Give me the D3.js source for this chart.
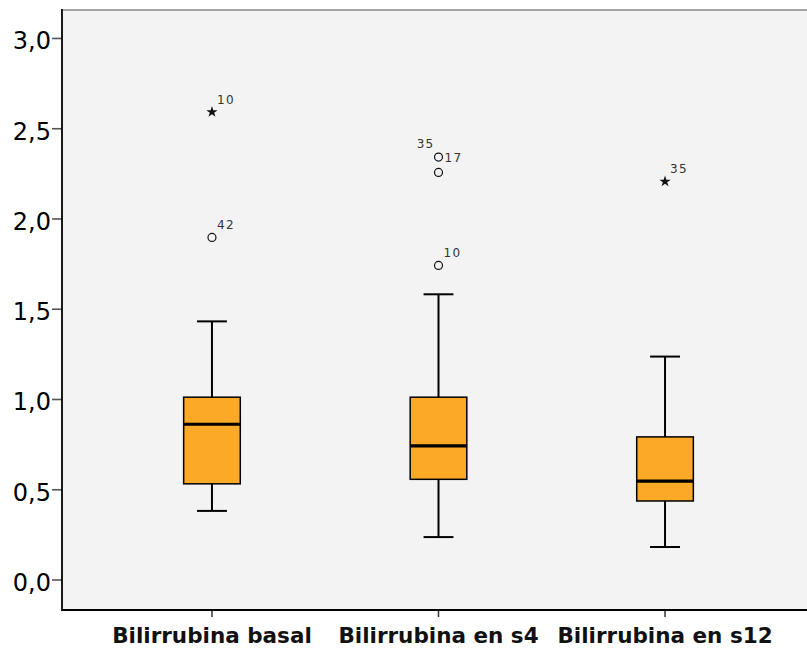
<!DOCTYPE html>
<html>
<head>
<meta charset="utf-8">
<script src="https://cdn.jsdelivr.net/npm/d3@7"></script>
<style>
  html, body { margin: 0; padding: 0; background: #ffffff; }
  svg { display: block; }
</style>
</head>
<body>
<svg id="chart" width="807" height="648"></svg>
<script>
// ---- Data ----
const categories = ["Bilirrubina basal", "Bilirrubina en s4", "Bilirrubina en s12"];
const whiskerLow  = [0.38, 0.235, 0.18];
const q1          = [0.53, 0.555, 0.435];
const medians     = [0.86, 0.74, 0.545];
const q3          = [1.01, 1.01, 0.79];
const whiskerHigh = [1.43, 1.58, 1.235];
// outliers: category index, value, case label, kind ("o" = outlier, "*" = extreme)
const outlierCat   = [0, 0, 1, 1, 1, 2];
const outlierValue = [2.59, 1.895, 2.34, 2.255, 1.74, 2.205];
const outlierLabel = ["10", "42", "17", "35", "10", "35"];
const outlierKind  = ["*", "o", "o", "o", "o", "*"];
const yTicks = [0, 0.5, 1.0, 1.5, 2.0, 2.5, 3.0];

// ---- Layout ----
const svg = d3.select("#chart");
const plotLeft = 62, plotTop = 10, plotBottom = 610, plotRight = 815;

const y = d3.scaleLinear().domain([-0.169, 3.155]).range([plotBottom, plotTop]);
const x = d3.scaleBand().domain(categories).range([plotLeft, plotRight])
  .paddingInner(0).paddingOuter(0.162);
const cx = c => x(c) + x.bandwidth() / 2;
const boxW = x.bandwidth() * 0.25;
const capW = x.bandwidth() * 0.132;
const fmt = v => d3.format(".1f")(v).replace(".", ",");

// background
svg.append("rect").attr("x", plotLeft).attr("y", plotTop)
  .attr("width", 807 - plotLeft).attr("height", plotBottom - plotTop)
  .attr("fill", "#f3f3f3");
// top border
svg.append("line").attr("x1", plotLeft).attr("x2", 807)
  .attr("y1", plotTop).attr("y2", plotTop)
  .attr("stroke", "#8a8a8a").attr("stroke-width", 1.5);

// Y axis
const yAxis = d3.axisLeft(y).tickValues(yTicks).tickFormat(fmt).tickSize(10).tickPadding(1);
const gy = svg.append("g").attr("transform", `translate(${plotLeft},0)`).call(yAxis);
gy.select(".domain").remove();
gy.selectAll(".tick line").attr("stroke", "#555").attr("stroke-width", 1.6);
gy.selectAll(".tick text").attr("font-family", "DejaVu Sans, sans-serif")
  .attr("font-size", 24).attr("fill", "#000").attr("dy", "0.45em");
svg.append("line").attr("x1", plotLeft).attr("x2", plotLeft)
  .attr("y1", plotTop - 1).attr("y2", plotBottom + 1)
  .attr("stroke", "#000").attr("stroke-width", 1.8);

// X axis
const xAxis = d3.axisBottom(x).tickSize(7).tickPadding(8);
const gx = svg.append("g").attr("transform", `translate(0,${plotBottom})`).call(xAxis);
gx.select(".domain").remove();
gx.selectAll(".tick line").attr("stroke", "#333").attr("stroke-width", 1.5);
gx.selectAll(".tick text").attr("font-family", "DejaVu Sans, sans-serif")
  .attr("font-weight", "bold").attr("font-size", 21.5).attr("fill", "#111")
  .attr("dy", "0.85em");
svg.append("line").attr("x1", plotLeft).attr("x2", 807)
  .attr("y1", plotBottom).attr("y2", plotBottom)
  .attr("stroke", "#000").attr("stroke-width", 1.8);

// Boxes
const g = svg.append("g");
categories.forEach((c, i) => {
  const xc = cx(c);
  // whiskers
  g.append("line").attr("x1", xc).attr("x2", xc)
    .attr("y1", y(q3[i])).attr("y2", y(whiskerHigh[i]))
    .attr("stroke", "#000").attr("stroke-width", 2);
  g.append("line").attr("x1", xc).attr("x2", xc)
    .attr("y1", y(q1[i])).attr("y2", y(whiskerLow[i]))
    .attr("stroke", "#000").attr("stroke-width", 2);
  [whiskerHigh[i], whiskerLow[i]].forEach(v => {
    g.append("line").attr("x1", xc - capW / 2).attr("x2", xc + capW / 2)
      .attr("y1", y(v)).attr("y2", y(v))
      .attr("stroke", "#000").attr("stroke-width", 2);
  });
  // box
  g.append("rect").attr("x", xc - boxW / 2).attr("y", y(q3[i]))
    .attr("width", boxW).attr("height", y(q1[i]) - y(q3[i]))
    .attr("fill", "#fba926").attr("stroke", "#000").attr("stroke-width", 1.5);
  // median
  g.append("line").attr("x1", xc - boxW / 2).attr("x2", xc + boxW / 2)
    .attr("y1", y(medians[i])).attr("y2", y(medians[i]))
    .attr("stroke", "#000").attr("stroke-width", 3.2);
});

// Outliers
const outliers = outlierValue.map((v, k) => ({
  cat: outlierCat[k], value: v, label: outlierLabel[k], kind: outlierKind[k]
}));
const star = d3.symbol().type(d3.symbolStar).size(40);
outliers.forEach(o => {
  const xc = cx(categories[o.cat]), yc = y(o.value);
  if (o.kind === "*") {
    g.append("path").attr("d", star).attr("transform", `translate(${xc},${yc})`)
      .attr("fill", "#111");
  } else {
    g.append("circle").attr("cx", xc).attr("cy", yc).attr("r", 4)
      .attr("fill", "none").attr("stroke", "#111").attr("stroke-width", 1.2);
  }
});

// Labels: default upper-right; clustered points (close vertically) get
// first label right-centered and second label upper-left of the cluster.
categories.forEach((c, i) => {
  const pts = outliers.filter(o => o.cat === i).sort((a, b) => b.value - a.value);
  const xc = cx(c);
  let k = 0;
  while (k < pts.length) {
    const p = pts[k], yc = y(p.value);
    const next = pts[k + 1];
    const lab = (tx, ty, anchor, txt) => g.append("text")
      .attr("x", tx).attr("y", ty).attr("text-anchor", anchor)
      .attr("font-family", "DejaVu Sans, sans-serif").attr("font-size", 12)
      .attr("letter-spacing", 1.3).attr("fill", "#333").text(txt);
    if (next && y(next.value) - yc < 20) {
      lab(xc + 6, yc + 4.5, "start", p.label);
      lab(xc - 4, yc - 9, "end", next.label);
      k += 2;
    } else {
      lab(xc + 5, yc - 8, "start", p.label);
      k += 1;
    }
  }
});
</script>
</body>
</html>
